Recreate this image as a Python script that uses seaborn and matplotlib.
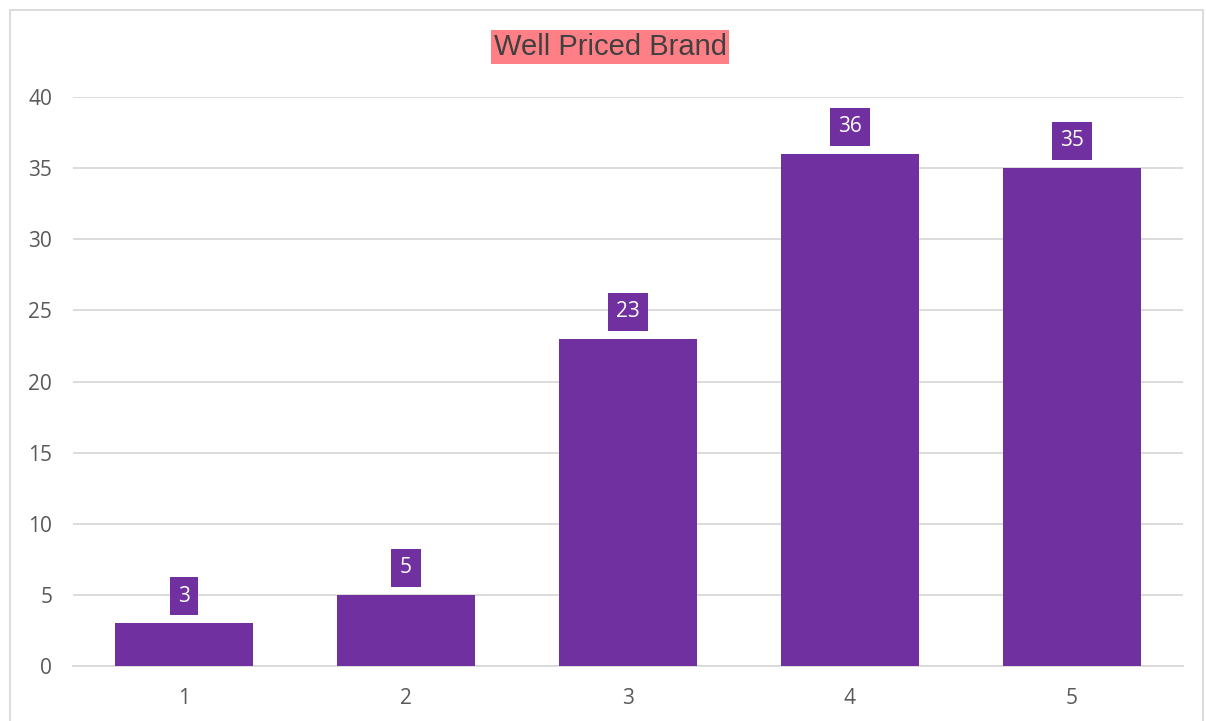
import matplotlib
matplotlib.use("Agg")
import matplotlib.pyplot as plt
import seaborn as sns
import pandas as pd
from matplotlib.patches import Rectangle

categories = ["1", "2", "3", "4", "5"]
values = [3, 5, 23, 36, 35]
title = "Well Priced Brand"

sns.set_theme(style="white")
plt.rcParams['font.family'] = ['Open Sans', 'DejaVu Sans']

df = pd.DataFrame({"rating": categories, "count": values})

fig = plt.figure(figsize=(12.06, 7.21), dpi=100)
W, H = 1206, 721
ax = fig.add_axes([73 / W, (H - 666) / H, (1183 - 73) / W, (666 - 97) / H])

sns.barplot(data=df, x="rating", y="count", order=categories, color="#7030A0",
            saturation=1, width=0.62, ax=ax, zorder=3, linewidth=0, edgecolor="none")

ax.set_ylim(0, 40)
ax.set_yticks(range(0, 41, 5))
ax.set_xlim(-0.5, 4.5)
ax.grid(axis="y", color="#D9D9D9", linewidth=1.3, zorder=0)
for s in ["top", "right", "left"]:
    ax.spines[s].set_visible(False)
ax.spines["bottom"].set_color("#D9D9D9")
ax.spines["bottom"].set_linewidth(1.3)
ax.set_xlabel("")
ax.set_ylabel("")
ax.tick_params(axis="both", length=0, labelsize=15, colors="#595959")
ax.tick_params(axis="y", pad=15)
ax.tick_params(axis="x", pad=16)

for c in ax.containers:
    ax.bar_label(c, padding=12, color="white", fontsize=15,
                 bbox=dict(boxstyle="square,pad=0.41", facecolor="#7030A0", edgecolor="none"))

fig.text(610 / W, 1 - 47 / H, title, ha="center", va="center", fontsize=21,
         color="#404040", family=["Liberation Sans", "DejaVu Sans"],
         bbox=dict(boxstyle="square,pad=0.1", facecolor="#FF7F86", edgecolor="none"))

fig.patches.append(Rectangle((10 / W, -0.01), (1203 - 10) / W, 1 - 10 / H + 0.01,
                             transform=fig.transFigure, fill=False,
                             edgecolor="#D9D9D9", linewidth=1.3))

fig.savefig("out.png", dpi=100)
